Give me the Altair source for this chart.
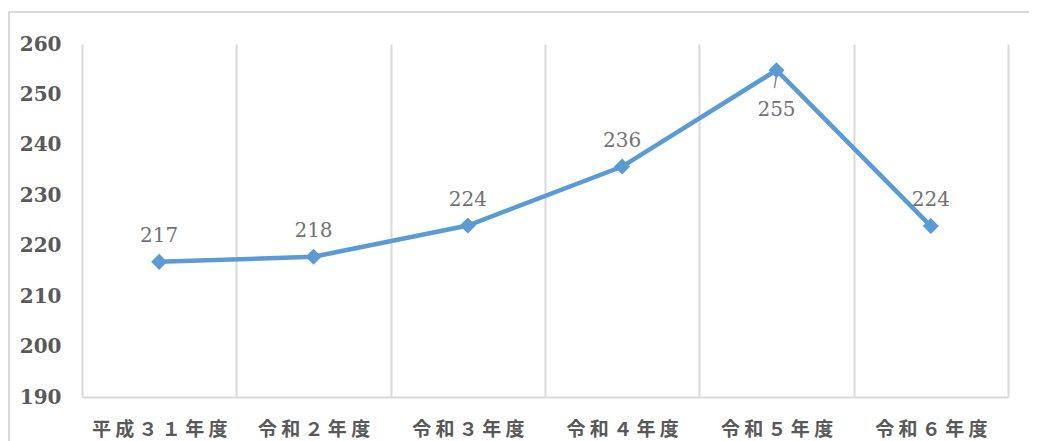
import altair as alt
import pandas as pd

categories = ["平 成 ３ １ 年 度", "令 和 ２ 年 度", "令 和 ３ 年 度", "令 和 ４ 年 度", "令 和 ５ 年 度", "令 和 ６ 年 度"]
values = [216.8, 217.8, 224.0, 235.7, 254.8, 223.9]
labels = ["217", "218", "224", "236", "255", "224"]
below = [False, False, False, False, True, False]

df = pd.DataFrame({"cat": categories, "value": values, "label": labels, "below": below})

BLUE = "#5B9BD5"
GRID = "#d9d9d9"

x = alt.X("cat:N", sort=categories, title=None,
          scale=alt.Scale(paddingInner=0, paddingOuter=0),
          axis=alt.Axis(tickBand="extent", grid=True, gridColor=GRID, gridWidth=2,
                        ticks=False, domain=True, domainColor=GRID, domainWidth=2,
                        labelAngle=0, labelFont="Noto Sans CJK JP", labelFontSize=19,
                        labelFontWeight="bold", labelColor="#595959", labelPadding=23))
y = alt.Y("value:Q", title=None,
          scale=alt.Scale(domain=[190, 260], nice=False, zero=False),
          axis=alt.Axis(values=list(range(190, 261, 10)), grid=False, ticks=False, domain=False,
                        labelFont="DejaVu Serif", labelFontSize=20, labelFontWeight="bold",
                        labelColor="#595959", labelPadding=21))

frame = alt.Chart(alt.Data(values=[{"a": 1}])).mark_rect(
    fill=None, stroke=GRID, strokeWidth=2
).encode(x=alt.value(-73), x2=alt.value(980), y=alt.value(-32), y2=alt.value(460))

base = alt.Chart(df)
line = base.mark_line(color=BLUE, strokeWidth=4.5).encode(x=x, y=y)
pts = base.mark_point(shape="diamond", filled=True, size=260, color=BLUE, opacity=1).encode(x=x, y=y)
txt_above = base.transform_filter("!datum.below").mark_text(
    font="DejaVu Serif", fontSize=20, color="#737373", baseline="middle", dy=-26
).encode(x=x, y=y, text="label:N")
txt_below = base.transform_filter("datum.below").mark_text(
    font="DejaVu Serif", fontSize=20, color="#737373", baseline="middle", dy=40
).encode(x=x, y=y, text="label:N")
leader = base.transform_filter("datum.below").mark_rule(
    color="#8c8c8c", strokeWidth=1.5, yOffset=5, y2Offset=18, x2Offset=-2
).encode(x=x, x2=alt.X2("cat"), y=y, y2=alt.Y2("value"))

chart = alt.layer(frame, line, pts, leader, txt_above, txt_below).properties(
    width=926, height=353,
    autosize=alt.AutoSizeParams(type="none"),
    padding={"left": 74, "top": 36, "right": 21, "bottom": 52},
).configure_view(stroke=None)

chart.save("out.html", embed_options={"renderer": "svg", "actions": False})
